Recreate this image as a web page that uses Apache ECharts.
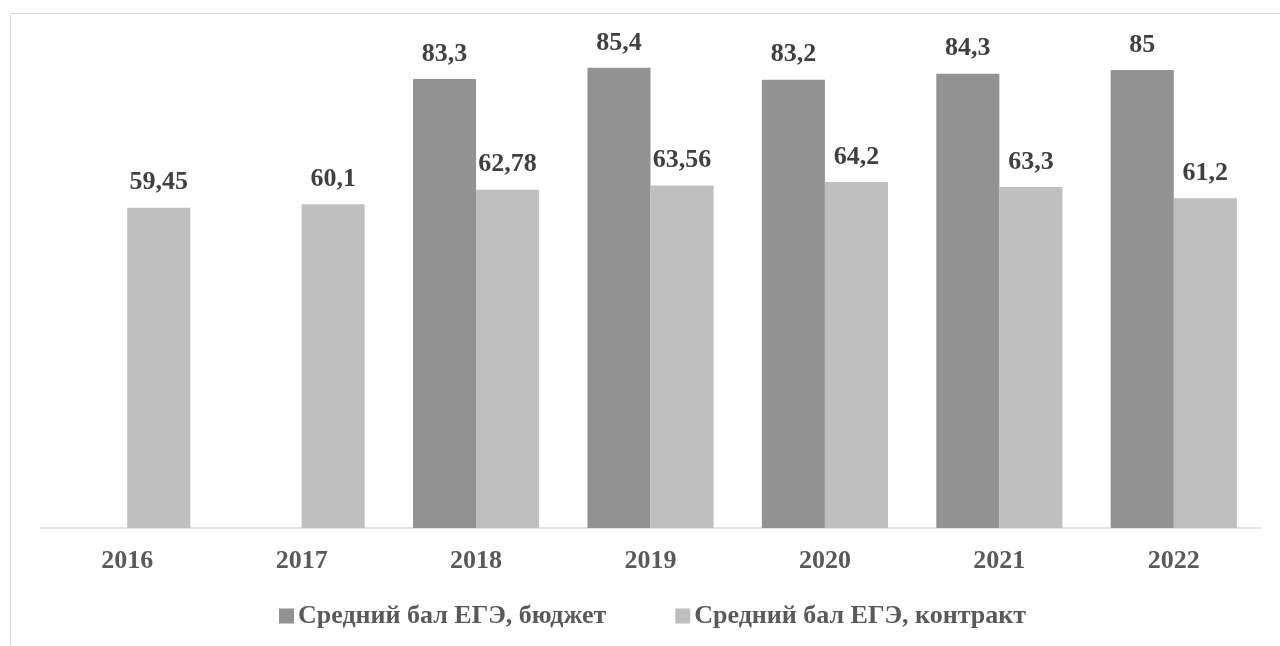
<!DOCTYPE html>
<html>
<head>
<meta charset="utf-8">
<script src="https://cdn.jsdelivr.net/npm/echarts@6/dist/echarts.min.js"></script>
<style>
  html, body { margin: 0; padding: 0; background: #fff; }
  #main { width: 1280px; height: 646px; }
</style>
</head>
<body>
<div id="main"></div>
<script>
var years = ['2016', '2017', '2018', '2019', '2020', '2021', '2022'];
var budget = [null, null, 83.3, 85.4, 83.2, 84.3, 85];
var contract = [59.45, 60.1, 62.78, 63.56, 64.2, 63.3, 61.2];
var names = ['Средний бал ЕГЭ, бюджет', 'Средний бал ЕГЭ, контракт'];

var font = '"Liberation Serif", "Times New Roman", serif';

var chart = echarts.init(document.getElementById('main'));

function lbl(p) {
  return String(p.value).replace('.', ',');
}

var option = {
  animation: false,
  backgroundColor: '#fff',
  graphic: [{
    type: 'rect',
    shape: { x: 10.5, y: 13.5, width: 1400, height: 800 },
    style: { fill: 'none', stroke: '#d9d9d9', lineWidth: 1 },
    silent: true
  }],
  grid: { left: 40, right: 19, top: 43, bottom: 118 },
  legend: {
    bottom: 12,
    left: 274,
    itemWidth: 15,
    itemHeight: 15,
    itemGap: 69,
    icon: 'rect',
    textStyle: { fontFamily: font, fontWeight: 'bold', fontSize: 26, color: '#595959', padding: [0, 0, 0, -1] }
  },
  xAxis: {
    type: 'category',
    data: years,
    axisLine: { lineStyle: { color: '#d9d9d9', width: 1.5 } },
    axisTick: { show: false },
    axisLabel: { fontFamily: font, fontWeight: 'bold', fontSize: 26, color: '#595959', margin: 20 }
  },
  yAxis: {
    type: 'value',
    min: 0,
    max: 90,
    show: false,
    splitLine: { show: false }
  },
  series: [
    {
      name: names[0],
      type: 'bar',
      data: budget,
      barGap: '0%',
      barCategoryGap: '27.7%',
      itemStyle: { color: '#929292' },
      label: { show: true, position: 'top', distance: 12, formatter: lbl,
        fontFamily: font, fontWeight: 'bold', fontSize: 26, color: '#404040' }
    },
    {
      name: names[1],
      type: 'bar',
      data: contract,
      barGap: '0%',
      barCategoryGap: '27.7%',
      itemStyle: { color: '#bfbfbf' },
      label: { show: true, position: 'top', distance: 12, formatter: lbl,
        fontFamily: font, fontWeight: 'bold', fontSize: 26, color: '#404040' }
    }
  ]
};

chart.setOption(option);
</script>
</body>
</html>
